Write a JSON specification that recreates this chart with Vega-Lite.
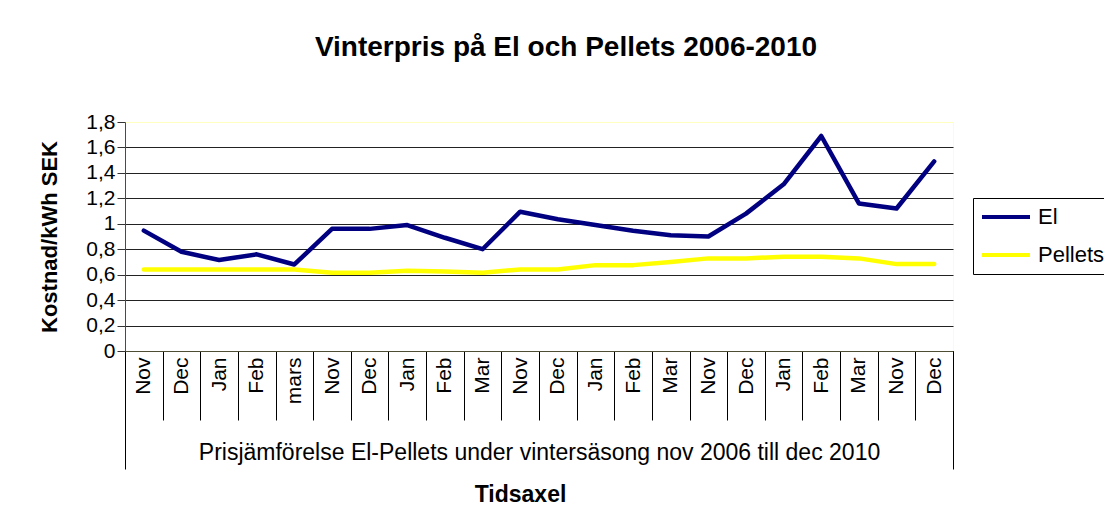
{
  "$schema": "https://vega.github.io/schema/vega-lite/v6.json",
  "width": 828,
  "height": 229,
  "autosize": "none",
  "padding": {"left": 125, "top": 122, "right": 151, "bottom": 181},
  "background": "white",
  "title": {
    "text": "Vinterpris på El och Pellets 2006-2010",
    "fontSize": 28,
    "fontWeight": "bold",
    "font": "Liberation Sans",
    "color": "black",
    "anchor": "middle",
    "frame": "group",
    "dx": 27,
    "offset": 27,
    "baseline": "alphabetic"
  },
  "data": {
    "values": [
      {"period": "Nov 2006", "El": 0.946, "Pellets": 0.64},
      {"period": "Dec 2006", "El": 0.78, "Pellets": 0.64},
      {"period": "Jan 2007", "El": 0.715, "Pellets": 0.64},
      {"period": "Feb 2007", "El": 0.76, "Pellets": 0.64},
      {"period": "mars 2007", "El": 0.68, "Pellets": 0.64},
      {"period": "Nov 2007", "El": 0.96, "Pellets": 0.615},
      {"period": "Dec 2007", "El": 0.96, "Pellets": 0.615},
      {"period": "Jan 2008", "El": 0.99, "Pellets": 0.63},
      {"period": "Feb 2008", "El": 0.89, "Pellets": 0.625},
      {"period": "Mar 2008", "El": 0.8, "Pellets": 0.615},
      {"period": "Nov 2008", "El": 1.095, "Pellets": 0.641},
      {"period": "Dec 2008", "El": 1.035, "Pellets": 0.641},
      {"period": "Jan 2009", "El": 0.99, "Pellets": 0.675},
      {"period": "Feb 2009", "El": 0.945, "Pellets": 0.675},
      {"period": "Mar 2009", "El": 0.91, "Pellets": 0.7},
      {"period": "Nov 2009", "El": 0.9, "Pellets": 0.728},
      {"period": "Dec 2009", "El": 1.08, "Pellets": 0.728},
      {"period": "Jan 2010", "El": 1.31, "Pellets": 0.741},
      {"period": "Feb 2010", "El": 1.69, "Pellets": 0.741},
      {"period": "Mar 2010", "El": 1.16, "Pellets": 0.728},
      {"period": "Nov 2010", "El": 1.12, "Pellets": 0.683},
      {"period": "Dec 2010", "El": 1.49, "Pellets": 0.683}
    ]
  },
  "layer": [
    {
      "mark": {"type": "line", "strokeWidth": 4.5, "strokeCap": "round", "strokeJoin": "round"},
      "encoding": {
        "x": {
          "field": "period",
          "type": "nominal",
          "sort": null,
          "bandPosition": 0.5,
          "scale": {"type": "band", "paddingInner": 0, "paddingOuter": 0},
          "axis": {
            "orient": "bottom",
            "title": "Prisjämförelse El-Pellets under vintersäsong nov 2006 till dec 2010",
            "titleFontSize": 23,
            "titleFontWeight": "normal",
            "titleColor": "black",
            "titleY": 101,
            "titleBaseline": "middle",
            "labelExpr": "isString(datum.value) ? split(datum.value, ' ')[0] : ''",
            "labelAngle": 270,
            "labelAlign": "right",
            "labelBaseline": "middle",
            "labelFontSize": 21,
            "labelColor": "black",
            "labelPadding": -63,
            "labelOverlap": false,
            "labelBound": false,
            "labelFlush": false,
            "tickBand": "extent",
            "tickSize": 69,
            "tickColor": "black",
            "tickWidth": 1,
            "domainColor": "#4d4d33",
            "domainWidth": 1,
            "grid": false
          }
        },
        "y": {
          "field": "El",
          "type": "quantitative",
          "title": "Kostnad/kWh SEK",
          "scale": {"domain": [0, 1.8], "nice": false, "zero": true},
          "axis": {
            "titleFontSize": 22,
            "titleFontWeight": "bold",
            "titleColor": "black",
            "titleAngle": 270,
            "titleX": -76,
            "titleY": 114.5,
            "titleAlign": "center",
            "titleBaseline": "middle",
            "values": [0, 0.2, 0.4, 0.6, 0.8, 1, 1.2, 1.4, 1.6, 1.8],
            "labelExpr": "replace(format(datum.value, '.1~f'), '.', ',')",
            "labelFontSize": 21,
            "labelColor": "black",
            "labelPadding": 2,
            "labelOverlap": false,
            "tickSize": 8,
            "tickColor": "#333333",
            "domainColor": "#4d4d33",
            "grid": true,
            "gridColor": "#222222",
            "gridOpacity": {"condition": {"test": "datum.value >= 1.79", "value": 0}, "value": 1}
          }
        },
        "color": {
          "datum": "El",
          "type": "nominal",
          "scale": {"domain": ["El", "Pellets"], "range": ["#000080", "#FFFF00"]},
          "legend": {
            "title": null,
            "orient": "none",
            "legendX": 848,
            "legendY": 76,
            "symbolType": "stroke",
            "symbolStrokeWidth": 4,
            "symbolSize": 2304,
            "clipHeight": 24,
            "rowPadding": 14,
            "padding": 7,
            "labelFontSize": 22,
            "labelColor": "black",
            "labelOffset": 6,
            "labelLimit": 300,
            "strokeColor": "black",
            "fillColor": "white"
          }
        }
      }
    },
    {
      "mark": {"type": "line", "strokeWidth": 4.5, "strokeCap": "round", "strokeJoin": "round"},
      "encoding": {
        "x": {
          "field": "period",
          "type": "nominal",
          "sort": null,
          "bandPosition": 0.5,
          "scale": {"type": "band", "paddingInner": 0, "paddingOuter": 0},
          "axis": {
            "orient": "bottom",
            "title": "Tidsaxel",
            "titleFontSize": 23,
            "titleFontWeight": "bold",
            "titleColor": "black",
            "titleX": 395,
            "titleY": 143,
            "titleAlign": "center",
            "titleBaseline": "middle",
            "labels": false,
            "domain": false,
            "grid": false,
            "tickBand": "extent",
            "tickSize": 118,
            "tickColor": "black",
            "tickOpacity": {"condition": {"test": "datum.extra || datum.value === 'Dec 2010'", "value": 1}, "value": 0}
          }
        },
        "y": {
          "field": "Pellets",
          "type": "quantitative",
          "title": "Kostnad/kWh SEK",
          "scale": {"domain": [0, 1.8], "nice": false, "zero": true},
          "axis": {
            "titleFontSize": 22,
            "titleFontWeight": "bold",
            "titleColor": "black",
            "titleAngle": 270,
            "titleX": -76,
            "titleY": 114.5,
            "titleAlign": "center",
            "titleBaseline": "middle",
            "values": [0, 0.2, 0.4, 0.6, 0.8, 1, 1.2, 1.4, 1.6, 1.8],
            "labelExpr": "replace(format(datum.value, '.1~f'), '.', ',')",
            "labelFontSize": 21,
            "labelColor": "black",
            "labelPadding": 2,
            "labelOverlap": false,
            "tickSize": 8,
            "tickColor": "#333333",
            "domainColor": "#4d4d33",
            "grid": true,
            "gridColor": "#222222",
            "gridOpacity": {"condition": {"test": "datum.value >= 1.79", "value": 0}, "value": 1}
          }
        },
        "color": {"datum": "Pellets", "type": "nominal"}
      }
    }
  ],
  "resolve": {"axis": {"x": "independent"}},
  "config": {
    "font": "Liberation Sans",
    "view": {"stroke": "#FFFFC0", "strokeWidth": 1}
  }
}
